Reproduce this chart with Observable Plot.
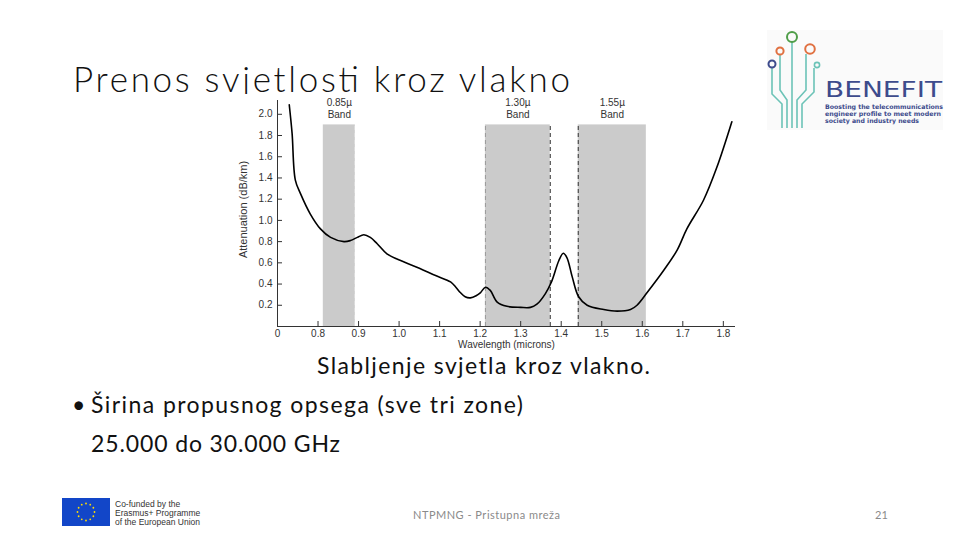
<!DOCTYPE html>
<html>
<head>
<meta charset="utf-8">
<script src="https://cdn.jsdelivr.net/npm/d3@7"></script>
<script src="https://cdn.jsdelivr.net/npm/@observablehq/plot@0.6"></script>
<style>
  html, body { margin: 0; padding: 0; background: #fff; }
  #slide { position: relative; width: 960px; height: 540px; overflow: hidden; background: #fff; }
  #bg { position: absolute; left: 0; top: 0; }
  #chart { position: absolute; left: 200px; top: 94px; }
</style>
</head>
<body>
<div id="slide">
<svg id="bg" width="960" height="540" xmlns="http://www.w3.org/2000/svg">
  <text x="73" y="92" font-family="Lato" font-weight="300" font-size="35" fill="#111" textLength="497" lengthAdjust="spacing">Prenos svjetlosti kroz vlakno</text>
  <text x="317" y="374" font-family="Lato" font-size="23" fill="#111" textLength="333" lengthAdjust="spacing">Slabljenje svjetla kroz vlakno.</text>
  <text x="72" y="413" font-family="Lato" font-size="23" fill="#111">•</text>
  <text x="91" y="413" font-family="Lato" font-size="23" fill="#111" textLength="432" lengthAdjust="spacing">Širina propusnog opsega (sve tri zone)</text>
  <text x="91" y="452" font-family="Lato" font-size="23" fill="#111" textLength="249" lengthAdjust="spacing">25.000 do 30.000 GHz</text>
  <text x="413" y="519" font-family="Lato" font-size="11" fill="#8a8a8a" textLength="147" lengthAdjust="spacing">NTPMNG - Pristupna mreža</text>
  <text x="875" y="519" font-family="Lato" font-size="11" fill="#8a8a8a">21</text>
  <!-- EU logo -->
  <rect x="62" y="498" width="48" height="28" fill="#1246c8"/>
  <g id="stars"></g>
  <text x="115" y="507" font-family="Liberation Sans" font-size="8.5" fill="#333">Co-funded by the</text>
  <text x="115" y="516" font-family="Liberation Sans" font-size="8.5" fill="#333">Erasmus+ Programme</text>
  <text x="115" y="525" font-family="Liberation Sans" font-size="8.5" fill="#333">of the European Union</text>
  <!-- BENEFIT logo -->
  <rect x="767" y="30" width="176" height="100" fill="#fafafa"/>
  <g fill="none" stroke="#6cc3b7" stroke-width="1.6">
    <path d="M792 42 V128"/>
    <path d="M787 128 V100 L780 90 V55"/>
    <path d="M797 128 V100 L806 90 V54"/>
    <path d="M782 128 V104 L772 94 V68"/>
    <path d="M802 128 V104 L814 92 V68"/>
  </g>
  <circle cx="792" cy="37" r="5" fill="none" stroke="#4f9d48" stroke-width="2"/>
  <circle cx="780" cy="51" r="3.6" fill="none" stroke="#e07040" stroke-width="2"/>
  <circle cx="810" cy="49" r="4.8" fill="none" stroke="#e07040" stroke-width="2"/>
  <circle cx="772" cy="64" r="3.5" fill="none" stroke="#3d4b8c" stroke-width="2"/>
  <circle cx="817" cy="65" r="2.6" fill="none" stroke="#6cc3b7" stroke-width="1.6"/>
  <text x="825" y="97" font-family="DejaVu Sans" font-size="21" fill="#3d4b8c" textLength="117" lengthAdjust="spacingAndGlyphs">BENEFIT</text>
  <text x="825" y="109" font-family="DejaVu Sans" font-weight="bold" font-size="6.3" fill="#3d4b8c" textLength="118" lengthAdjust="spacingAndGlyphs">Boosting the telecommunications</text>
  <text x="825" y="116" font-family="DejaVu Sans" font-weight="bold" font-size="6.3" fill="#3d4b8c" textLength="116" lengthAdjust="spacingAndGlyphs">engineer profile to meet modern</text>
  <text x="825" y="123" font-family="DejaVu Sans" font-weight="bold" font-size="6.3" fill="#3d4b8c" textLength="94" lengthAdjust="spacingAndGlyphs">society and industry needs</text>
</svg>
</div>
<script>
// ---- Data ----
const wavelength = [0.729, 0.736, 0.744, 0.757, 0.781, 0.806, 0.831, 0.864, 0.880, 0.897, 0.913, 0.929, 0.946, 0.970, 1.011, 1.050, 1.090, 1.127, 1.140, 1.151, 1.163, 1.176, 1.190, 1.201, 1.213, 1.225, 1.242, 1.266, 1.300, 1.324, 1.340, 1.361, 1.377, 1.394, 1.405, 1.414, 1.427, 1.443, 1.464, 1.505, 1.538, 1.571, 1.587, 1.612, 1.653, 1.686, 1.710, 1.751, 1.784, 1.821];
const attenuation = [2.09, 1.82, 1.38, 1.25, 1.06, 0.92, 0.84, 0.80, 0.81, 0.84, 0.865, 0.84, 0.78, 0.685, 0.61, 0.55, 0.48, 0.42, 0.37, 0.32, 0.28, 0.27, 0.29, 0.32, 0.37, 0.34, 0.23, 0.19, 0.18, 0.18, 0.21, 0.31, 0.43, 0.62, 0.69, 0.65, 0.47, 0.28, 0.20, 0.16, 0.145, 0.16, 0.20, 0.32, 0.53, 0.72, 0.92, 1.19, 1.50, 1.93];

const bandLabels = ["0.85µ", "1.30µ", "1.55µ"];
const bandStart = [0.813, 1.213, 1.442];
const bandEnd = [0.892, 1.373, 1.610];
const bandTop = 1.9;
const darkDashes = [1.373, 1.442];
const lightDashes = [1.213];
const whiteDashes = [0.892];

const xTicks = [0.7, 0.8, 0.9, 1.0, 1.1, 1.2, 1.3, 1.4, 1.5, 1.6, 1.7, 1.8];
const xTickLabels = ["0", "0.8", "0.9", "1.0", "1.1", "1.2", "1.3", "1.4", "1.5", "1.6", "1.7", "1.8"];
const yTicks = [0.2, 0.4, 0.6, 0.8, 1.0, 1.2, 1.4, 1.6, 1.8, 2.0];

const points = wavelength.map((x, i) => ({x, y: attenuation[i]}));
const bands = bandLabels.map((label, i) => ({label, start: bandStart[i], end: bandEnd[i], center: (bandStart[i] + bandEnd[i]) / 2}));
const xLabelMap = new Map(xTicks.map((t, i) => [t, xTickLabels[i]]));

// EU stars (decoration)
const stars = document.getElementById("stars");
for (let i = 0; i < 12; i++) {
  const a = i / 12 * 2 * Math.PI;
  const c = document.createElementNS("http://www.w3.org/2000/svg", "circle");
  c.setAttribute("cx", 86 + 8.5 * Math.cos(a));
  c.setAttribute("cy", 512 + 8.5 * Math.sin(a));
  c.setAttribute("r", 0.9);
  c.setAttribute("fill", "#ffdd00");
  stars.appendChild(c);
}

const chart = Plot.plot({
  width: 550,
  height: 260,
  marginLeft: 77,
  marginRight: 15,
  marginTop: 6,
  marginBottom: 28,
  style: {background: "white", fontFamily: "Liberation Sans, Arial, sans-serif", fontSize: "10px", color: "#333"},
  x: {domain: [0.7, 1.83]},
  y: {domain: [0, 2.13]},
  marks: [
    Plot.rect(bands, {x1: "start", x2: "end", y1: 0, y2: bandTop, fill: "#cbcbcb"}),
    Plot.ruleX(whiteDashes, {y1: 0, y2: bandTop, stroke: "white", strokeDasharray: "4,3"}),
    Plot.ruleX(lightDashes, {y1: 0, y2: bandTop, stroke: "#9a9a9a", strokeDasharray: "4,3"}),
    Plot.ruleX(darkDashes, {y1: 0, y2: bandTop, stroke: "#333", strokeDasharray: "4,3"}),
    Plot.text(bands, {x: "center", y: bandTop, text: "label", dy: -22}),
    Plot.text(bands, {x: "center", y: bandTop, text: () => "Band", dy: -10}),
    Plot.line(points, {x: "x", y: "y", curve: "catmull-rom", stroke: "black", strokeWidth: 1.6}),
    Plot.ruleY([0], {stroke: "#333"}),
    Plot.ruleX([0.7], {stroke: "#333"}),
    Plot.axisX(xTicks, {tickSize: -5, tickPadding: 8, tickFormat: d => xLabelMap.get(d), label: null}),
    Plot.axisY(yTicks, {tickSize: -5, tickPadding: 10, tickFormat: d => d.toFixed(1), label: null}),
    Plot.text(["Attenuation (dB/km)"], {frameAnchor: "left", textAnchor: "middle", rotate: -90, dx: -34, dy: -4, fontSize: 11}),
    Plot.text(["Wavelength (microns)"], {frameAnchor: "bottom", textAnchor: "middle", dy: 21, fontSize: 10})
  ]
});
chart.id = "chart";
document.getElementById("slide").appendChild(chart);
</script>
</body>
</html>
